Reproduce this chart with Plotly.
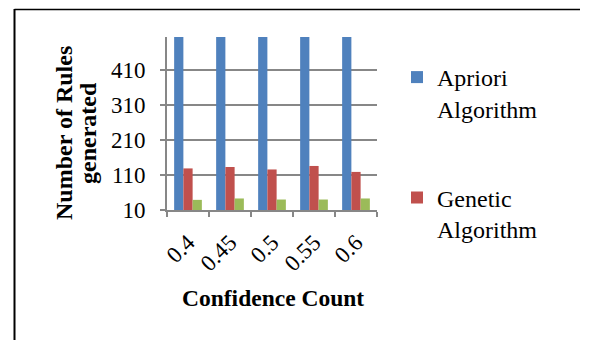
import plotly.graph_objects as go

categories = ["0.4", "0.45", "0.5", "0.55", "0.6"]
apriori = [600, 600, 600, 600, 600]
genetic = [129, 133, 126, 136, 119]
third = [39, 43, 40, 40, 43]
y_ticks = [10, 110, 210, 310, 410]

W, H = 589, 340
L, R, T, B = 167, 377, 37, 210

def px_x(p):
    return (p - L) / (R - L)

def px_y(q):
    return (B - q) / (B - T)

FONT = "Liberation Serif, Times New Roman, serif"
GRID = "#878787"

fig = go.Figure()
fig.add_trace(go.Bar(x=categories, y=apriori, name="Apriori<br>Algorithm",
                     marker=dict(color="#4F81BD", line=dict(width=0)),
                     legendgroup="a"))
fig.add_trace(go.Bar(x=categories, y=genetic, name="Genetic<br>Algorithm",
                     marker=dict(color="#C0504D", line=dict(width=0)),
                     legendgroup="b"))
fig.add_trace(go.Bar(x=categories, y=third, name="Other",
                     marker=dict(color="#9BBB59", line=dict(width=0)),
                     showlegend=False, legendgroup="c"))

fig.update_layout(
    width=W, height=H,
    margin=dict(l=L, r=W - R, t=T, b=H - B, pad=0),
    paper_bgcolor="white", plot_bgcolor="white",
    barmode="group", bargap=0.34, bargroupgap=0,
    font=dict(family=FONT, color="black", size=23),
    legend=dict(x=px_x(397), y=px_y(55), xanchor="left", yanchor="top",
                font=dict(family=FONT, size=24, color="black"),
                valign="top", traceorder="grouped", tracegroupgap=55,
                maxheight=320, bgcolor="rgba(0,0,0,0)"),
    xaxis=dict(type="category", showline=True, linecolor=GRID, linewidth=1.6,
               ticks="outside", ticklen=5, tickcolor=GRID, tickwidth=1.6,
               tickson="boundaries", tickangle=-45, showgrid=False,
               ticklabelstandoff=8,
               tickfont=dict(family=FONT, size=23, color="black")),
    yaxis=dict(range=[10, 505], tickvals=y_ticks, showline=True,
               linecolor=GRID, linewidth=1.6, ticks="outside", ticklen=5,
               tickcolor=GRID, tickwidth=1.6, showgrid=True, gridcolor=GRID,
               gridwidth=1.6, zeroline=False, ticklabelstandoff=10,
               tickfont=dict(family=FONT, size=23, color="black")),
    annotations=[
        dict(text="<b>Number of Rules</b>", textangle=-90, x=px_x(64), y=px_y(133),
             xref="paper", yref="paper", xanchor="center", yanchor="middle",
             showarrow=False, font=dict(family=FONT, size=24, color="black")),
        dict(text="<b>generated</b>", textangle=-90, x=px_x(88), y=px_y(133),
             xref="paper", yref="paper", xanchor="center", yanchor="middle",
             showarrow=False, font=dict(family=FONT, size=24, color="black")),
        dict(text="<b>Confidence Count</b>", x=px_x(273), y=px_y(298),
             xref="paper", yref="paper", xanchor="center", yanchor="middle",
             showarrow=False, font=dict(family=FONT, size=23.5, color="black")),
    ],
    shapes=[
        dict(type="line", xref="paper", yref="paper", x0=px_x(14.5), x1=px_x(14.5),
             y0=px_y(9), y1=px_y(345), line=dict(color="black", width=2)),
        dict(type="line", xref="paper", yref="paper", x0=px_x(14.5), x1=px_x(580),
             y0=px_y(9.5), y1=px_y(9.5), line=dict(color="black", width=1.5)),
    ],
)

fig.write_html("out.html")
